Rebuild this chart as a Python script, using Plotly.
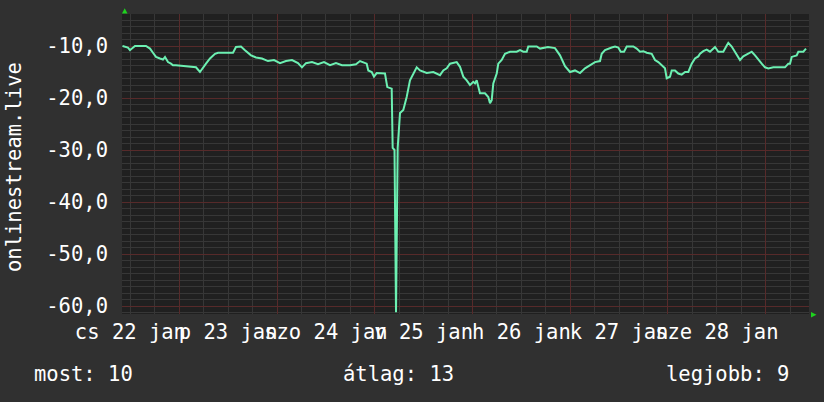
import pandas as pd
import plotly.graph_objects as go

# ---------------- data ----------------
start_date = "2015-01-22"          # hours below are counted from this midnight
hours = [10.05, 10.67, 11.40, 11.89, 12.39, 13.12, 15.82, 16.81, 17.54, 18.28,
         19.26, 20.00, 20.49, 21.23, 21.96, 22.45, 23.19, 24.66, 26.63, 28.10,
         29.08, 29.82, 30.56, 31.54, 32.77, 33.50, 37.19, 37.92, 39.15, 40.13,
         40.87, 41.61, 42.84, 44.31, 45.78, 47.26, 48.73, 50.20, 51.68, 53.15,
         54.13, 55.11, 56.59, 58.06, 59.53, 61.01, 62.48, 63.96, 65.92, 67.39,
         68.38, 70.02, 70.41, 71.25, 71.81, 72.48, 74.51, 75.08, 76.16, 76.40,
         76.85, 77.22, 77.63, 78.20, 79.01, 79.84, 80.65, 81.46, 82.30, 83.11,
         83.92, 84.75, 86.38, 87.21, 88.02, 88.83, 89.67, 90.48, 91.29, 92.12,
         92.93, 93.74, 94.58, 95.39, 96.20, 96.62, 97.03, 97.84, 99.07, 99.88,
         100.30, 100.72, 101.11, 101.95, 102.34, 103.17, 103.98, 105.21, 106.85, 107.67,
         108.48, 109.31, 109.70, 111.77, 112.58, 114.54, 116.26, 117.49, 118.72, 119.94,
         121.17, 122.40, 123.63, 124.86, 126.08, 127.31, 127.73, 128.54, 129.35, 130.18,
         131.00, 131.81, 132.39, 133.21, 133.87, 135.49, 136.32, 137.13, 137.95, 138.78,
         140.01, 140.82, 141.63, 142.46, 143.27, 143.69, 144.50, 144.92, 145.73, 146.54,
         147.37, 148.19, 149.00, 149.83, 150.64, 151.45, 151.87, 152.68, 153.51, 154.32,
         155.14, 155.55, 156.36, 157.59, 158.43, 158.82, 159.65, 160.46, 161.28, 161.69,
         162.50, 163.34, 164.57, 165.38, 166.19, 167.02, 167.83, 168.64, 169.87, 171.10,
         172.74, 173.55, 173.97, 174.39, 175.61, 176.01, 177.24, 177.90]
values = [-10.0, -10.1, -10.3, -10.8, -10.4, -10.0, -10.0, -10.5, -11.3, -12.1,
          -12.4, -12.6, -12.1, -13.1, -13.4, -13.7, -13.7, -13.8, -13.9, -14.1,
          -15.0, -14.3, -13.4, -12.4, -11.5, -11.3, -11.3, -10.2, -10.1, -10.8,
          -11.4, -11.8, -12.2, -12.4, -12.9, -12.7, -13.3, -12.9, -12.7, -13.3,
          -14.1, -13.3, -13.1, -13.5, -13.1, -13.7, -13.3, -13.7, -13.7, -13.5,
          -12.9, -13.4, -14.7, -15.0, -15.9, -15.2, -15.3, -17.9, -18.2, -29.6,
          -30.0, -61.2, -29.6, -22.9, -22.3, -19.8, -16.6, -15.3, -14.1, -14.7,
          -15.0, -15.2, -15.0, -15.3, -15.6, -14.7, -14.3, -13.4, -13.2, -13.1,
          -14.0, -15.9, -16.6, -17.5, -16.9, -17.2, -16.6, -19.1, -19.1, -19.8,
          -21.0, -20.4, -17.2, -15.3, -13.4, -12.7, -11.5, -11.1, -11.1, -10.8,
          -11.1, -11.1, -10.1, -10.1, -10.5, -10.2, -10.4, -11.8, -13.9, -15.0,
          -14.7, -15.2, -14.3, -13.7, -13.1, -12.9, -11.5, -10.8, -10.5, -10.3,
          -10.1, -10.3, -11.1, -11.1, -10.1, -10.1, -10.5, -11.1, -11.0, -11.3,
          -11.5, -12.7, -13.1, -13.7, -14.3, -16.2, -15.9, -14.7, -14.7, -15.3,
          -15.5, -15.0, -15.0, -13.4, -12.4, -12.0, -11.5, -11.0, -10.7, -11.1,
          -10.5, -10.2, -11.1, -11.1, -9.9, -9.4, -10.1, -11.1, -12.0, -12.7,
          -12.0, -11.6, -11.1, -11.8, -12.7, -13.4, -14.1, -14.3, -14.1, -14.1,
          -14.1, -13.4, -13.4, -12.1, -11.8, -11.1, -11.1, -10.5]

series_name = "onlinestream.live"
day_labels = ["cs 22 jan", "p 23 jan", "szo 24 jan", "v 25 jan",
              "h 26 jan", "k 27 jan", "sze 28 jan"]
label_times = ["2015-01-22 12:00", "2015-01-23 12:00", "2015-01-24 12:00",
               "2015-01-25 12:00", "2015-01-26 12:00", "2015-01-27 12:00",
               "2015-01-28 12:00"]
y_tick_vals = [-10, -20, -30, -40, -50, -60]
y_tick_text = ["-10,0", "-20,0", "-30,0", "-40,0", "-50,0", "-60,0"]
stat_most = "most: 10"
stat_avg = "átlag: 13"
stat_best = "legjobb: 9"

# ---------------- styling ----------------
FONT = "DejaVu Sans Mono"
FS = 20.5
OUTER = "#303030"
INNER = "#202020"
LINE = "#6cf0b2"
RED = "#572a2a"
GREY = "#373737"
ARROW = "#1ed21e"

times = pd.Timestamp(start_date) + pd.to_timedelta(hours, unit="h")
x_range = ["2015-01-22 09:56", "2015-01-29 10:38"]
y_range = [-61.5385, -3.8462]

# minor grid positions (every 6 h / every 1.25 units), skipping major lines
day0 = pd.Timestamp(start_date)
x_minor = [day0 + pd.Timedelta(hours=6 * k) for k in range(0, 33) if k % 4 != 0]
y_minor = [-1.25 * k for k in range(1, 50) if k % 8 != 0]

fig = go.Figure()
fig.add_trace(go.Scatter(x=times, y=values, mode="lines",
                         line=dict(color=LINE, width=2), name=series_name,
                         showlegend=False, hoverinfo="skip"))
# helper trace so the label axis (x2) is drawn
fig.add_trace(go.Scatter(x=[times[0]], y=[values[0]], xaxis="x2", mode="markers",
                         marker=dict(opacity=0), showlegend=False, hoverinfo="skip"))

fig.update_layout(
    width=824, height=402,
    margin=dict(l=122, r=15, t=14, b=88, autoexpand=False),
    paper_bgcolor=OUTER, plot_bgcolor=INNER,
    font=dict(family=FONT, size=FS, color="#ffffff"),
    # grid axis: red line every day at midnight, grey every 6 hours
    xaxis=dict(type="date", range=x_range, tickmode="linear",
               tick0="2015-01-22", dtick=86400000,
               showticklabels=False, automargin=False,
               showgrid=True, gridcolor=RED, gridwidth=1,
               zeroline=False, showline=False, ticks="",
               minor=dict(tickmode="array", tickvals=x_minor, showgrid=True,
                          gridcolor=GREY, gridwidth=1)),
    # label axis: day labels centred at noon
    xaxis2=dict(type="date", matches="x", overlaying="x", side="bottom",
                anchor="y", tickmode="array", tickvals=label_times,
                ticktext=day_labels, tickangle=0, automargin=False,
                showgrid=False, zeroline=False, showline=False, ticks="",
                ticklabelstandoff=3,
                tickfont=dict(family=FONT, size=FS, color="#ffffff")),
    yaxis=dict(range=y_range, tickmode="array",
               tickvals=y_tick_vals, ticktext=y_tick_text, automargin=False,
               showgrid=True, gridcolor=RED, gridwidth=1,
               zeroline=False, showline=False, ticks="", ticklabelstandoff=13,
               tickfont=dict(family=FONT, size=FS, color="#ffffff"),
               minor=dict(tickmode="array", tickvals=y_minor, showgrid=True,
                          gridcolor=GREY, gridwidth=1)),
    showlegend=False,
)

PW, PH = 687.0, 300.0
def px(xp):
    return (xp - 122) / PW
def py(yp):
    return (314 - yp) / PH

annos = [
    dict(text=series_name, x=px(14), y=py(167), textangle=-90,
         xanchor="center", yanchor="middle"),
    dict(text=stat_most, x=px(32), y=py(374), xanchor="left", yanchor="middle"),
    dict(text=stat_avg, x=px(340.5), y=py(374), xanchor="left", yanchor="middle"),
    dict(text=stat_best, x=px(791), y=py(374), xanchor="right", yanchor="middle"),
]
for a in annos:
    fig.add_annotation(xref="paper", yref="paper", showarrow=False,
                       font=dict(family=FONT, size=FS, color="#ffffff"), **a)

# axis arrows
fig.add_shape(type="path", xref="paper", yref="paper", line=dict(width=0),
              fillcolor=ARROW,
              path=f"M {px(122)},{py(13.5)} L {px(127.5)},{py(13.5)} L {px(124.7)},{py(8.3)} Z")
fig.add_shape(type="path", xref="paper", yref="paper", line=dict(width=0),
              fillcolor=ARROW,
              path=f"M {px(811)},{py(312)} L {px(811)},{py(317.5)} L {px(816.5)},{py(314.7)} Z")

fig.write_html("out.html",
               config={"displayModeBar": False, "staticPlot": True},
               post_script="document.body.style.margin='0';"
                           "document.body.style.background='" + OUTER + "';")
